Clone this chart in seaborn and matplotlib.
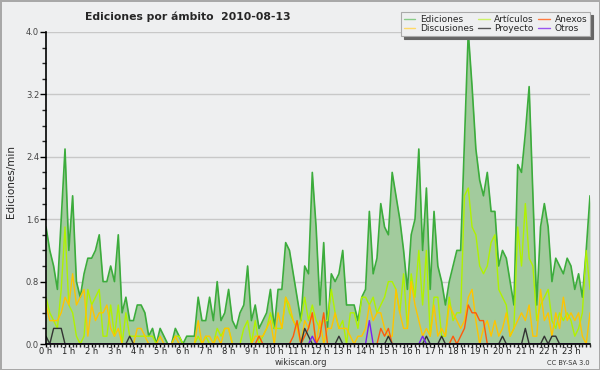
import numpy as np
import matplotlib
matplotlib.use("Agg")
import matplotlib.pyplot as plt
from matplotlib.lines import Line2D
from matplotlib.ticker import MultipleLocator, FixedLocator
import seaborn as sns

# edits per minute, one value per 10-minute slot (144 slots)
ediciones = [
    1.5, 1.2, 1.0, 0.7, 1.6, 2.5, 1.2, 1.9, 0.8, 0.6, 0.9, 1.1,
    1.1, 1.2, 1.4, 0.8, 0.8, 1.0, 0.8, 1.4, 0.4, 0.6, 0.3, 0.3,
    0.5, 0.5, 0.4, 0.1, 0.2, 0.0, 0.2, 0.1, 0.0, 0.0, 0.2, 0.1,
    0.0, 0.1, 0.1, 0.1, 0.6, 0.3, 0.3, 0.6, 0.3, 0.8, 0.3, 0.4,
    0.7, 0.3, 0.2, 0.4, 0.5, 1.0, 0.3, 0.5, 0.2, 0.3, 0.4, 0.7,
    0.2, 0.7, 0.7, 1.3, 1.2, 0.9, 0.6, 0.3, 1.0, 0.9, 2.2, 1.5,
    0.5, 1.3, 0.2, 0.9, 0.8, 0.9, 1.2, 0.5, 0.5, 0.5, 0.3, 0.6,
    0.7, 1.7, 0.9, 1.1, 1.8, 1.5, 1.4, 2.2, 1.9, 1.6, 1.2, 0.7,
    1.4, 1.6, 2.5, 1.2, 2.0, 0.7, 1.7, 1.0, 0.8, 0.5, 0.8, 1.0,
    1.2, 1.2, 2.6, 4.0, 3.3, 2.5, 2.1, 1.9, 2.2, 1.7, 1.7, 1.0,
    1.2, 1.1, 0.8, 0.5, 2.3, 2.2, 2.7, 3.3, 1.9, 0.5, 1.5, 1.8,
    1.5, 0.8, 1.1, 1.0, 0.9, 1.1, 1.0, 0.7, 0.9, 0.6, 1.2, 1.9,
]
articulos = [
    0.6, 0.4, 0.3, 0.2, 0.7, 1.5, 0.5, 0.4, 0.1, 0.0, 0.1, 0.7,
    0.5, 0.6, 0.7, 0.1, 0.1, 0.5, 0.1, 0.5, 0.0, 0.4, 0.1, 0.1,
    0.1, 0.1, 0.1, 0.1, 0.1, 0.0, 0.0, 0.0, 0.0, 0.0, 0.1, 0.1,
    0.0, 0.0, 0.0, 0.0, 0.1, 0.0, 0.1, 0.0, 0.0, 0.2, 0.1, 0.2,
    0.2, 0.0, 0.0, 0.0, 0.2, 0.3, 0.0, 0.3, 0.0, 0.1, 0.2, 0.4,
    0.2, 0.2, 0.2, 0.6, 0.4, 0.3, 0.2, 0.3, 0.6, 0.3, 0.5, 0.3,
    0.2, 0.3, 0.3, 0.7, 0.4, 0.2, 0.3, 0.0, 0.4, 0.4, 0.2, 0.6,
    0.6, 0.5, 0.6, 0.4, 0.5, 0.6, 0.8, 0.8, 0.7, 0.4, 0.9, 0.2,
    0.9, 0.6, 1.2, 0.5, 1.2, 0.1, 0.6, 0.6, 0.1, 0.1, 0.6, 0.3,
    0.4, 0.4, 1.9, 2.0, 1.5, 1.4, 1.0, 0.9, 1.0, 1.3, 1.4, 0.7,
    0.6, 0.5, 0.1, 0.2, 1.5, 1.0, 1.8, 1.1, 1.0, 0.3, 0.5, 0.6,
    0.7, 0.3, 0.2, 0.4, 0.3, 0.4, 0.3, 0.1, 0.2, 0.4, 1.2, 0.7,
]
discusiones = [
    0.5, 0.3, 0.3, 0.3, 0.4, 0.6, 0.5, 0.9, 0.5, 0.6, 0.7, 0.1,
    0.5, 0.3, 0.4, 0.4, 0.5, 0.2, 0.1, 0.2, 0.0, 0.0, 0.0, 0.0,
    0.2, 0.2, 0.1, 0.0, 0.0, 0.0, 0.1, 0.0, 0.0, 0.0, 0.1, 0.0,
    0.0, 0.0, 0.0, 0.0, 0.3, 0.0, 0.1, 0.1, 0.0, 0.1, 0.0, 0.2,
    0.2, 0.0, 0.0, 0.0, 0.0, 0.0, 0.0, 0.1, 0.1, 0.1, 0.2, 0.3,
    0.0, 0.4, 0.2, 0.6, 0.5, 0.3, 0.2, 0.0, 0.3, 0.2, 0.4, 0.0,
    0.3, 0.0, 0.2, 0.2, 0.4, 0.2, 0.2, 0.2, 0.1, 0.0, 0.1, 0.1,
    0.2, 0.5, 0.3, 0.4, 0.4, 0.2, 0.1, 0.1, 0.7, 0.4, 0.2, 0.2,
    0.8, 0.5, 0.3, 0.1, 0.2, 0.1, 0.5, 0.1, 0.2, 0.1, 0.5, 0.4,
    0.3, 0.2, 0.3, 0.6, 0.7, 0.3, 0.0, 0.2, 0.3, 0.1, 0.3, 0.1,
    0.2, 0.4, 0.1, 0.2, 0.3, 0.4, 0.3, 0.5, 0.1, 0.1, 0.7, 0.3,
    0.4, 0.1, 0.4, 0.2, 0.6, 0.3, 0.4, 0.3, 0.4, 0.1, 0.0, 0.4,
]
anexos = [
    0, 0, 0, 0, 0, 0, 0, 0, 0, 0, 0, 0,
    0, 0, 0, 0, 0, 0, 0, 0, 0, 0, 0, 0,
    0, 0, 0, 0, 0, 0, 0, 0, 0, 0, 0, 0,
    0, 0, 0, 0, 0, 0, 0, 0, 0, 0, 0, 0,
    0, 0, 0, 0, 0, 0, 0, 0, 0.1, 0, 0, 0,
    0, 0, 0, 0, 0, 0.1, 0.3, 0, 0.1, 0.2, 0.4, 0,
    0.1, 0.4, 0, 0, 0, 0, 0, 0, 0, 0, 0, 0,
    0, 0, 0, 0, 0.2, 0.1, 0.2, 0, 0, 0, 0, 0,
    0, 0, 0, 0, 0, 0, 0, 0, 0, 0, 0, 0.1,
    0, 0.1, 0.2, 0.5, 0.4, 0.4, 0.3, 0.3, 0, 0, 0, 0,
    0, 0, 0, 0, 0, 0, 0, 0, 0, 0, 0, 0,
    0, 0, 0, 0, 0, 0, 0, 0, 0, 0, 0, 0,
]
proyecto = [
    0.1, 0, 0.2, 0.2, 0.2, 0, 0, 0, 0, 0, 0, 0,
    0, 0, 0, 0, 0, 0, 0, 0, 0, 0, 0.1, 0,
    0, 0, 0, 0, 0, 0, 0, 0, 0, 0, 0, 0,
    0, 0, 0, 0, 0, 0, 0, 0, 0, 0, 0, 0,
    0, 0, 0, 0, 0, 0, 0, 0, 0, 0, 0, 0,
    0, 0, 0, 0, 0, 0, 0, 0, 0.2, 0.1, 0, 0,
    0, 0, 0, 0, 0, 0.1, 0, 0, 0, 0, 0, 0,
    0, 0, 0, 0, 0, 0, 0.1, 0, 0, 0, 0, 0,
    0, 0, 0, 0, 0.1, 0, 0, 0, 0.1, 0, 0, 0,
    0, 0, 0, 0, 0, 0, 0, 0, 0, 0, 0, 0,
    0.1, 0, 0, 0, 0, 0, 0.2, 0, 0, 0, 0, 0.1,
    0, 0.1, 0.1, 0, 0, 0, 0, 0, 0, 0, 0, 0,
]
otros = [
    0, 0, 0, 0, 0, 0, 0, 0, 0, 0, 0, 0,
    0, 0, 0, 0, 0, 0, 0, 0, 0, 0, 0, 0,
    0, 0, 0, 0, 0, 0, 0, 0, 0, 0, 0, 0,
    0, 0, 0, 0, 0, 0, 0, 0, 0, 0, 0, 0,
    0, 0, 0, 0, 0, 0, 0, 0, 0, 0, 0, 0,
    0, 0, 0, 0, 0, 0, 0, 0, 0, 0, 0.1, 0,
    0, 0, 0, 0, 0, 0, 0, 0, 0, 0, 0, 0,
    0, 0.3, 0, 0, 0, 0, 0, 0, 0, 0, 0, 0,
    0, 0, 0, 0.1, 0, 0, 0, 0, 0, 0, 0, 0,
    0, 0, 0, 0, 0, 0, 0, 0, 0, 0, 0, 0,
    0, 0, 0, 0, 0, 0, 0, 0, 0, 0, 0, 0,
    0, 0, 0, 0, 0, 0, 0, 0, 0, 0, 0, 0,
]
hour_labels = ["0 h", "1 h", "2 h", "3 h", "4 h", "5 h", "6 h", "7 h",
               "8 h", "9 h", "10 h", "11 h", "12 h", "13 h", "14 h", "15 h",
               "16 h", "17 h", "18 h", "19 h", "20 h", "21 h", "22 h", "23 h"]

bg = "#eeeff0"
sns.set_style("ticks", {"axes.facecolor": bg, "figure.facecolor": bg})
plt.rcParams["font.family"] = ["DejaVu Sans"]

slots = np.arange(len(ediciones))

fig = plt.figure(figsize=(6, 3.7), dpi=100)
fig.patch.set_edgecolor("#a8a8a8")
fig.patch.set_linewidth(2)
ax = fig.add_axes([46 / 600, 26 / 370, 544 / 600, 312 / 370])

series = [
    ("Artículos", articulos, "#b0f200"),
    ("Discusiones", discusiones, "#ffc400"),
    ("Anexos", anexos, "#ff5a0a"),
    ("Proyecto", proyecto, "#333333"),
    ("Otros", otros, "#7a1ff0"),
]

ax.fill_between(slots, ediciones, color="#a2cb9d", lw=0, zorder=1)
sns.lineplot(x=slots, y=ediciones, color="#3cac3c", lw=1.2, ax=ax, zorder=2)
for name, vals, col in series:
    sns.lineplot(x=slots, y=vals, color=col, lw=1.0, ax=ax, zorder=2)

ax.set_xlim(0, len(slots) - 1)
ax.set_ylim(0, 4.0)
ax.yaxis.set_major_locator(MultipleLocator(0.8))
ax.yaxis.set_minor_locator(MultipleLocator(0.2))
ax.yaxis.set_major_formatter(matplotlib.ticker.FormatStrFormatter("%.1f"))
ax.xaxis.set_major_locator(FixedLocator(np.arange(0, len(slots), 6)))
ax.xaxis.set_minor_locator(MultipleLocator(1))
ax.set_xticklabels(hour_labels)
ax.grid(axis="y", color="#c8c8c8", lw=1)
ax.set_axisbelow(True)
for s in ["top", "right"]:
    ax.spines[s].set_visible(False)
for s in ["left", "bottom"]:
    ax.spines[s].set_linewidth(1.2)
    ax.spines[s].set_color("black")
ax.tick_params(which="major", length=4, width=1, labelsize=6, pad=1, colors="black")
ax.tick_params(which="minor", length=3, width=1)
ax.tick_params(axis="x", which="major", length=2.5, pad=0)
ax.tick_params(axis="x", which="minor", length=2.5)
ax.tick_params(axis="x", labelcolor="#222222")
ax.tick_params(axis="y", labelcolor="#444444")
ax.set_xlabel("")
ax.set_ylabel("")

fig.text(0.142, 0.955, "Ediciones por ámbito  2010-08-13", fontsize=7.8,
         weight="bold", va="center", ha="left")
fig.text(0.018, 0.51, "Ediciones/min", rotation=90, fontsize=7.5,
         va="center", ha="center")
fig.text(0.502, 0.019, "wikiscan.org", fontsize=6, va="center", ha="center",
         color="#333333")
fig.text(0.983, 0.019, "CC BY-SA 3.0", fontsize=4.8, va="center", ha="right",
         color="#333333")

handles = [
    Line2D([], [], color="#88cc88", lw=1, label="Ediciones"),
    Line2D([], [], color="#ffd966", lw=1, label="Discusiones"),
    Line2D([], [], color="#ccf266", lw=1, label="Artículos"),
    Line2D([], [], color="#555555", lw=1, label="Proyecto"),
    Line2D([], [], color="#ff7a40", lw=1, label="Anexos"),
    Line2D([], [], color="#9a55f0", lw=1, label="Otros"),
]
leg = ax.legend(handles=handles, ncol=3, loc="upper right",
                bbox_to_anchor=(590 / 600, 1 - 12 / 370),
                bbox_transform=fig.transFigure, fontsize=6.5,
                frameon=True, fancybox=False, framealpha=1,
                shadow={"color": "#666666", "alpha": 1},
                handlelength=1.3, handletextpad=0.5, columnspacing=0.5,
                labelspacing=0.05, borderpad=0.3, borderaxespad=0)
leg.get_frame().set_edgecolor("#aaaaaa")
leg.get_frame().set_linewidth(0.8)

fig.savefig("out.png", dpi=100, facecolor=fig.get_facecolor(),
            edgecolor=fig.get_edgecolor())
